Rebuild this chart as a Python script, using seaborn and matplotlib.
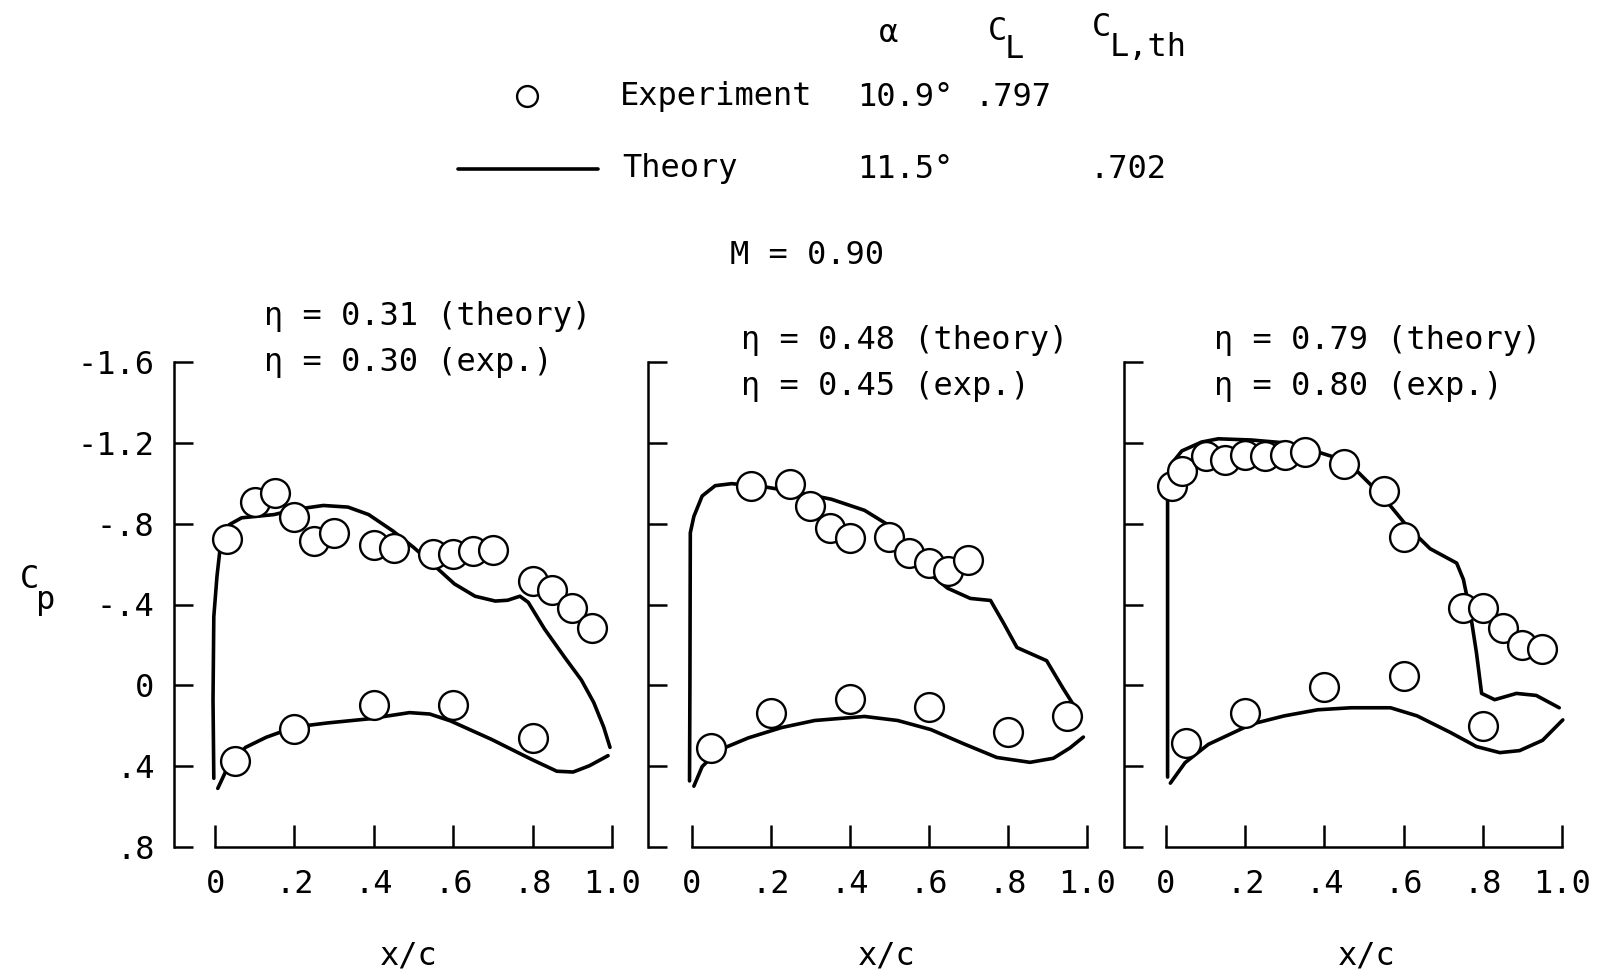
import numpy as np
import pandas as pd
import matplotlib
matplotlib.use("Agg")
import matplotlib.pyplot as plt
import seaborn as sns

# ---- measured pressure distributions, M = 0.90 ----
# panel 1: eta = 0.31 (theory) / 0.30 (exp.)
p1_th_up_x = [-0.003, -0.005, -0.003, 0.005, 0.013, 0.021, 0.036, 0.067, 0.098, 0.149, 0.201, 0.273,
              0.335, 0.387, 0.448, 0.500, 0.552, 0.603, 0.655, 0.706, 0.737, 0.768, 0.789, 0.830,
              0.881, 0.923, 0.954, 0.979, 0.995]
p1_th_up_cp = [0.46, 0.07, -0.34, -0.54, -0.68, -0.72, -0.795, -0.829, -0.835, -0.845, -0.870, -0.890,
               -0.882, -0.845, -0.764, -0.683, -0.593, -0.502, -0.441, -0.417, -0.421, -0.441, -0.411,
               -0.279, -0.138, -0.026, 0.085, 0.206, 0.307]
p1_th_lo_x = [0.007, 0.036, 0.077, 0.129, 0.201, 0.284, 0.387, 0.490, 0.541, 0.593, 0.696, 0.799,
              0.861, 0.902, 0.943, 0.990]
p1_th_lo_cp = [0.51, 0.388, 0.307, 0.257, 0.206, 0.186, 0.166, 0.135, 0.142, 0.176, 0.267, 0.368,
               0.425, 0.429, 0.398, 0.348]
p1_ex_up_x = [0.03, 0.10, 0.15, 0.20, 0.25, 0.30, 0.40, 0.45, 0.55, 0.60, 0.65, 0.70, 0.80, 0.85, 0.90, 0.95]
p1_ex_up_cp = [-0.724, -0.906, -0.950, -0.831, -0.714, -0.752, -0.692, -0.681, -0.651, -0.651,
               -0.667, -0.671, -0.518, -0.473, -0.384, -0.283]
p1_ex_lo_x = [0.05, 0.20, 0.40, 0.60, 0.80]
p1_ex_lo_cp = [0.372, 0.216, 0.097, 0.097, 0.261]

# panel 2: eta = 0.48 (theory) / 0.45 (exp.)
p2_th_up_x = [-0.005, -0.004, -0.003, 0.006, 0.027, 0.060, 0.102, 0.186, 0.270, 0.354, 0.438, 0.497,
              0.547, 0.597, 0.648, 0.706, 0.757, 0.790, 0.824, 0.899, 0.941, 0.987]
p2_th_up_cp = [0.473, 0.0, -0.755, -0.836, -0.937, -0.988, -0.998, -0.982, -0.954, -0.921, -0.866,
               -0.795, -0.674, -0.562, -0.481, -0.430, -0.420, -0.308, -0.187, -0.122, 0.016, 0.158]
p2_th_lo_x = [0.006, 0.027, 0.069, 0.144, 0.228, 0.312, 0.438, 0.522, 0.606, 0.690, 0.773, 0.857,
              0.916, 0.958, 0.992]
p2_th_lo_cp = [0.499, 0.402, 0.321, 0.260, 0.209, 0.174, 0.154, 0.174, 0.219, 0.290, 0.357, 0.381,
               0.361, 0.310, 0.256]
p2_ex_up_x = [0.15, 0.25, 0.30, 0.35, 0.40, 0.50, 0.55, 0.60, 0.65, 0.70]
p2_ex_up_cp = [-0.984, -0.994, -0.887, -0.777, -0.730, -0.736, -0.653, -0.607, -0.568, -0.619]
p2_ex_lo_x = [0.05, 0.20, 0.40, 0.60, 0.80, 0.95]
p2_ex_lo_cp = [0.310, 0.138, 0.069, 0.108, 0.229, 0.152]

# panel 3: eta = 0.79 (theory) / 0.80 (exp.)
p3_th_up_x = [0.004, 0.004, 0.011, 0.040, 0.090, 0.132, 0.216, 0.299, 0.375, 0.425, 0.483, 0.550,
              0.609, 0.667, 0.734, 0.751, 0.768, 0.784, 0.797, 0.830, 0.885, 0.935, 0.993]
p3_th_up_cp = [0.454, -0.948, -1.089, -1.160, -1.204, -1.220, -1.214, -1.200, -1.160, -1.129, -1.059,
               -0.928, -0.787, -0.676, -0.605, -0.524, -0.363, -0.161, 0.040, 0.071, 0.040, 0.050, 0.111]
p3_th_lo_x = [0.011, 0.048, 0.107, 0.216, 0.299, 0.383, 0.467, 0.567, 0.634, 0.717, 0.784, 0.843,
              0.893, 0.951, 1.002]
p3_th_lo_cp = [0.484, 0.383, 0.292, 0.192, 0.151, 0.121, 0.111, 0.111, 0.151, 0.232, 0.303, 0.333,
               0.323, 0.272, 0.171]
p3_ex_up_x = [0.015, 0.04, 0.10, 0.15, 0.20, 0.25, 0.30, 0.35, 0.45, 0.55, 0.60, 0.75, 0.80, 0.85, 0.90, 0.95]
p3_ex_up_cp = [-0.984, -1.059, -1.134, -1.117, -1.140, -1.134, -1.138, -1.154, -1.093, -0.964,
               -0.736, -0.383, -0.383, -0.286, -0.202, -0.182]
p3_ex_lo_x = [0.05, 0.20, 0.40, 0.60, 0.80]
p3_ex_lo_cp = [0.286, 0.137, 0.010, -0.044, 0.202]

panel_titles = [("η = 0.31 (theory)", "η = 0.30 (exp.)"),
                ("η = 0.48 (theory)", "η = 0.45 (exp.)"),
                ("η = 0.79 (theory)", "η = 0.80 (exp.)")]

cp_ticks = [-1.6, -1.2, -0.8, -0.4, 0.0, 0.4, 0.8]
cp_tick_labels = ["-1.6", "-1.2", "-.8", "-.4", "0", ".4", ".8"]
xc_ticks = [0.0, 0.2, 0.4, 0.6, 0.8, 1.0]
xc_tick_labels = ["0", ".2", ".4", ".6", ".8", "1.0"]

# ---- style ----
sns.set_style("ticks", {"axes.edgecolor": "black", "xtick.color": "black",
                        "ytick.color": "black", "text.color": "black"})
FONT = ["DejaVu Sans Mono", "DejaVu Sans"]
plt.rcParams["font.family"] = FONT
FS = 23

W, H = 1604, 975
fig = plt.figure(figsize=(W / 100, H / 100), dpi=100)


def fx(px):
    return px / W


def fy(py):
    return 1 - py / H


def build_frame(up_x, up_cp, lo_x, lo_cp):
    return pd.DataFrame({
        "x": list(up_x) + list(lo_x),
        "cp": list(up_cp) + list(lo_cp),
        "surface": ["upper"] * len(up_x) + ["lower"] * len(lo_x),
    })


panels = [
    (build_frame(p1_th_up_x, p1_th_up_cp, p1_th_lo_x, p1_th_lo_cp),
     build_frame(p1_ex_up_x, p1_ex_up_cp, p1_ex_lo_x, p1_ex_lo_cp)),
    (build_frame(p2_th_up_x, p2_th_up_cp, p2_th_lo_x, p2_th_lo_cp),
     build_frame(p2_ex_up_x, p2_ex_up_cp, p2_ex_lo_x, p2_ex_lo_cp)),
    (build_frame(p3_th_up_x, p3_th_up_cp, p3_th_lo_x, p3_th_lo_cp),
     build_frame(p3_ex_up_x, p3_ex_up_cp, p3_ex_lo_x, p3_ex_lo_cp)),
]

# pixel geometry of each panel: (spine, x=0, x=1)
geom = [(174, 215, 612), (648, 691.5, 1086.5), (1124, 1166, 1562)]
y_top, y_bot = 362, 847
title_pos = [(264, 317, 363), (741, 340, 387), (1214, 340, 387)]
xlabel_x = [409, 887, 1367]

for i, ((theory, exper), (sp, x0, x1)) in enumerate(zip(panels, geom)):
    unit = x1 - x0
    right = x1 + 14
    ax = fig.add_axes([fx(sp), fy(y_bot), (right - sp) / W, (y_bot - y_top) / H])
    ax.set_xlim((sp - x0) / unit, (right - x0) / unit)
    ax.set_ylim(0.8, -1.6)

    sns.lineplot(data=theory, x="x", y="cp", units="surface", estimator=None, sort=False,
                 color="black", lw=2.6, ax=ax, legend=False, clip_on=False)
    sns.scatterplot(data=exper, x="x", y="cp", marker="o", s=430, facecolor="white",
                    edgecolor="black", linewidth=1.7, ax=ax, legend=False, zorder=3, clip_on=False)

    for side in ("top", "right"):
        ax.spines[side].set_visible(False)
    ax.spines["left"].set_linewidth(1.8)
    ax.spines["bottom"].set_linewidth(1.8)
    ax.spines["bottom"].set_bounds(0, 1)

    ax.set_yticks(cp_ticks)
    if i == 0:
        ax.set_yticklabels(cp_tick_labels, fontsize=FS)
    else:
        ax.set_yticklabels([])
    ax.set_xticks(xc_ticks)
    ax.set_xticklabels(xc_tick_labels, fontsize=FS)
    ax.tick_params(axis="y", direction="in", length=14, width=1.8, pad=14)
    ax.tick_params(axis="x", direction="in", length=16, width=1.8, pad=16)
    ax.set_xlabel("")
    ax.set_ylabel("")
    ax.patch.set_alpha(0)

    tx, ty1, ty2 = title_pos[i]
    fig.text(fx(tx), fy(ty1), panel_titles[i][0], fontsize=FS, ha="left", va="center")
    fig.text(fx(tx), fy(ty2), panel_titles[i][1], fontsize=FS, ha="left", va="center")
    fig.text(fx(xlabel_x[i]), fy(956), "x/c", fontsize=FS, ha="center", va="center")

# ordinate label
fig.text(fx(30), fy(580), "C", fontsize=FS, ha="center", va="center")
fig.text(fx(46), fy(600), "p", fontsize=FS, ha="center", va="center")

# key block
fig.text(fx(888), fy(33), "α", fontsize=FS, ha="center", va="center")
fig.text(fx(988), fy(31), "C", fontsize=FS, ha="left", va="center")
fig.text(fx(1005), fy(50), "L", fontsize=FS, ha="left", va="center")
fig.text(fx(1092), fy(28), "C", fontsize=FS, ha="left", va="center")
fig.text(fx(1110), fy(48), "L,th", fontsize=FS, ha="left", va="center")

key = fig.add_axes([0, 0, 1, 1])
key.set_xlim(0, W)
key.set_ylim(H, 0)
key.axis("off")
key.patch.set_alpha(0)
key.plot([527], [96], marker="o", ms=15, mfc="white", mec="black", mew=1.7, ls="none")
key.plot([458, 598], [169, 169], color="black", lw=2.6)

fig.text(fx(620), fy(97), "Experiment", fontsize=FS, ha="left", va="center")
fig.text(fx(857), fy(97), "10.9°", fontsize=FS, ha="left", va="center")
fig.text(fx(974), fy(97), ".797", fontsize=FS, ha="left", va="center")
fig.text(fx(622), fy(169), "Theory", fontsize=FS, ha="left", va="center")
fig.text(fx(857), fy(169), "11.5°", fontsize=FS, ha="left", va="center")
fig.text(fx(1089), fy(169), ".702", fontsize=FS, ha="left", va="center")
fig.text(fx(730), fy(256), "M = 0.90", fontsize=FS, ha="left", va="center")

fig.savefig("out.png", dpi=100, facecolor="white")
